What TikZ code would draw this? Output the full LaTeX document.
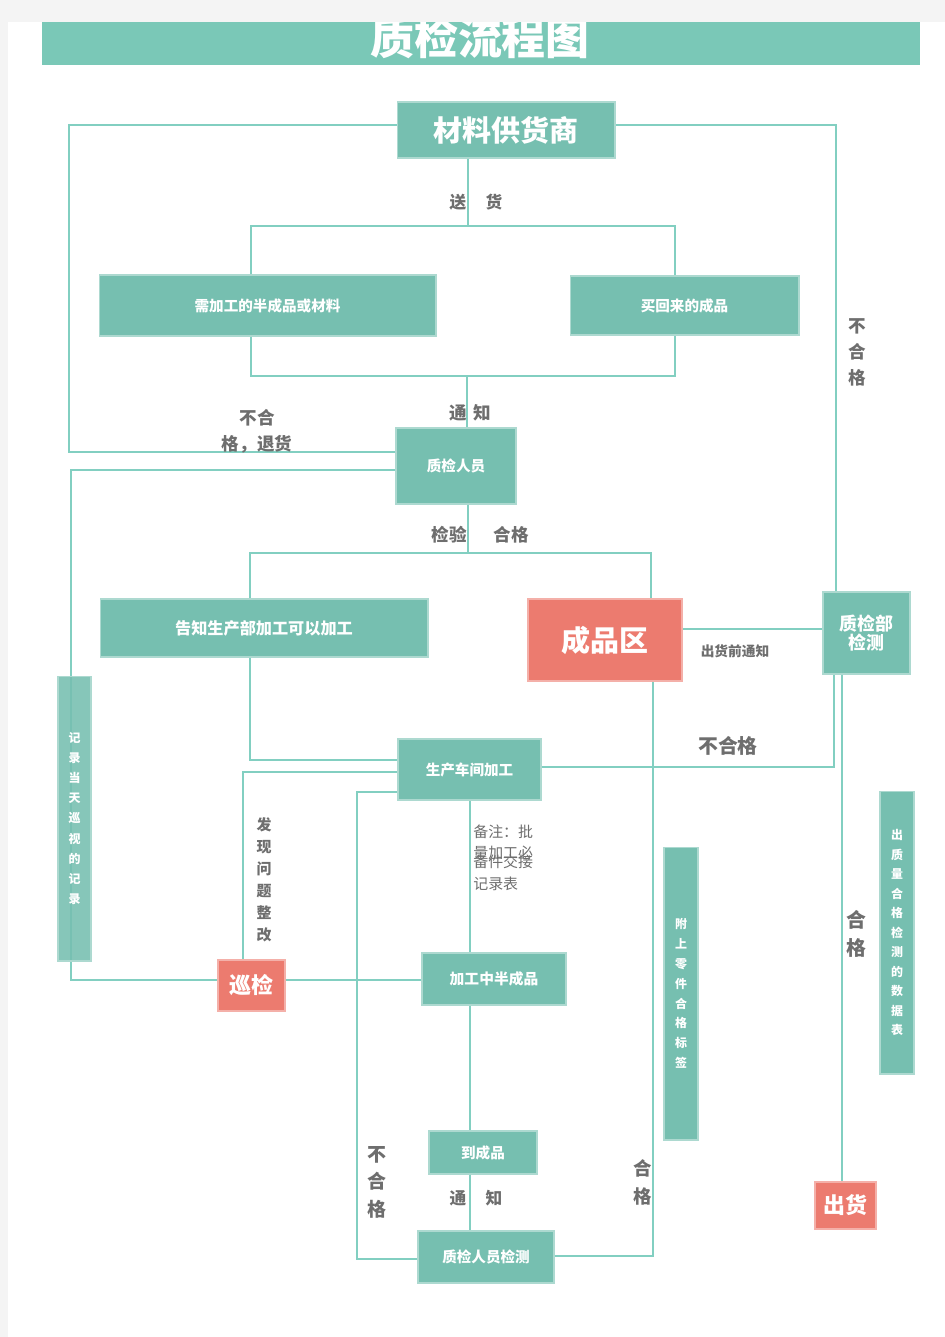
\documentclass[tikz,border=0pt]{standalone}
\usepackage{fontspec}
\setmainfont{Noto Sans CJK SC}
\definecolor{tealbox}{HTML}{76BFB0}
\definecolor{titlec}{HTML}{7AC8B7}
\definecolor{salmon}{HTML}{EC7B6F}
\definecolor{linec}{HTML}{82CFC1}
\definecolor{graytxt}{HTML}{6E6E6E}
\definecolor{bgc}{HTML}{F4F4F4}
\tikzset{
 box/.style={fill=tealbox, draw=tealbox!60!white, line width=0.6pt, text=white, inner sep=0pt},
 redbox/.style={box, fill=salmon, draw=salmon!60!white},
 conn/.style={draw=linec, line width=0.75pt},
 thickconn/.style={draw=linec, line width=1.6pt},
 lbl/.style={text=graytxt, inner sep=0pt},
}
\begin{document}
\begin{tikzpicture}[x=0.02cm,y=-0.02cm]
\useasboundingbox (0,0) rectangle (945,1337);
\fill[bgc] (0,0) rectangle (945,1337);
\fill[white] (8,22) rectangle (945,1337);
\fill[titlec] (42,22) rectangle (920,65);
\node[text=white,inner sep=0pt,font=\bfseries\fontsize{25}{30}\selectfont] (title) at (480,38) {质检流程图};
\fill[bgc] (0,0) rectangle (945,22);

% boxes
\node[box, minimum width=4.36cm, minimum height=1.12cm, font=\bfseries\fontsize{16.5}{20}\selectfont] (sup) at (506,130) {材料供货商};
\node[box, minimum width=6.74cm, minimum height=1.22cm, font=\bfseries\fontsize{8.3}{10}\selectfont] (semi) at (267.5,305.5) {需加工的半成品或材料};
\node[box, minimum width=4.58cm, minimum height=1.18cm, font=\bfseries\fontsize{8.3}{10}\selectfont] (bought) at (684.5,305.5) {买回来的成品};
\node[box, minimum width=2.4cm, minimum height=1.52cm, font=\bfseries\fontsize{8.3}{10}\selectfont] (qc) at (456,466) {质检人员};
\node[box, minimum width=6.56cm, minimum height=1.16cm, font=\bfseries\fontsize{9.2}{11}\selectfont] (tell) at (264,628) {告知生产部加工可以加工};
\node[redbox, minimum width=3.08cm, minimum height=1.64cm, font=\bfseries\fontsize{16.5}{20}\selectfont] (fin) at (605,640) {成品区};
\node[box, minimum width=1.74cm, minimum height=1.64cm, align=center, font=\bfseries\fontsize{10.2}{10.8}\selectfont] (dept) at (866.5,633) {质检部\\检测};
\node[box, minimum width=2.86cm, minimum height=1.22cm, font=\bfseries\fontsize{8.3}{10}\selectfont] (work) at (469.5,769.5) {生产车间加工};
\node[box, minimum width=2.88cm, minimum height=1.04cm, font=\bfseries\fontsize{8.4}{10}\selectfont] (semi2) at (494,979) {加工中半成品};
\node[box, minimum width=2.16cm, minimum height=0.86cm, font=\bfseries\fontsize{8.3}{10}\selectfont] (prod) at (483,1152.5) {到成品};
\node[box, minimum width=2.72cm, minimum height=1.04cm, font=\bfseries\fontsize{8.3}{10}\selectfont] (qc2) at (486,1257) {质检人员检测};
\node[box, minimum width=0.68cm, minimum height=5.86cm, align=center, font=\bfseries\fontsize{6.8}{11.3}\selectfont] (tag) at (681,993.5) {附\\上\\零\\件\\合\\格\\标\\签};
\node[box, minimum width=0.68cm, minimum height=5.66cm, align=center, font=\bfseries\fontsize{6.8}{11.1}\selectfont] (data) at (897,932.5) {出\\质\\量\\合\\格\\检\\测\\的\\数\\据\\表};
\node[redbox, minimum width=1.22cm, minimum height=0.94cm, font=\bfseries\fontsize{12.5}{14}\selectfont] (ship) at (845.5,1205.5) {出货};
\node[redbox, minimum width=1.34cm, minimum height=1.02cm, font=\bfseries\fontsize{12.5}{14}\selectfont] (patrol) at (251.5,985.5) {巡检};

% junction coordinates
\coordinate (j1) at (468,226);
\coordinate (a1) at (251,226);
\coordinate (a2) at (675,226);
\coordinate (b1) at (251,376);
\coordinate (b2) at (675,376);
\coordinate (j2) at (467,376);
\coordinate (c1) at (69,452);
\coordinate (c2) at (69,125);
\coordinate (d1) at (836,125);
\coordinate (e1) at (71,470);
\coordinate (e2) at (71,980);
\coordinate (f1) at (300,980);
\coordinate (g1) at (468,553);
\coordinate (g2) at (250,553);
\coordinate (g3) at (651,553);
\coordinate (h1) at (700,629);
\coordinate (i1) at (250,760);
\coordinate (k1) at (834,767);
\coordinate (l1) at (243,772);
\coordinate (m1) at (357,792);
\coordinate (m2) at (357,1259);
\coordinate (n1) at (470,900);
\coordinate (o1) at (653,1256);
\coordinate (p1) at (842,700);

% connectors
\draw[conn] (sup.south -| j1) -- (j1);
\draw[conn] (a1 |- semi.north) -- (a1) -- (a2) -- (a2 |- bought.north);
\draw[conn] (b1 |- semi.south) -- (b1) -- (b2) -- (b2 |- bought.south);
\draw[conn] (j2) -- (j2 |- qc.north);
\draw[conn] (qc.west |- c1) -- (c1) -- (c2) -- (c2 -| sup.west);
\draw[conn] (sup.east |- d1) -- (d1) -- (d1 |- dept.north);
\draw[conn] (qc.west |- e1) -- (e1) -- (e2) -- (e2 -| patrol.west);
\draw[conn] (patrol.east |- f1) -- (semi2.west |- f1);
\draw[conn] (qc.south -| g1) -- (g1);
\draw[conn] (g2 |- tell.north) -- (g2) -- (g3) -- (g3 |- fin.north);
\draw[thickconn] (fin.east |- h1) -- (dept.west |- h1);
\draw[conn] (i1 |- tell.south) -- (i1) -- (work.west |- i1);
\draw[conn] (work.east |- k1) -- (k1) -- (k1 |- dept.south);
\draw[conn] (work.west |- l1) -- (l1) -- (l1 |- patrol.north);
\draw[conn] (work.west |- m1) -- (m1) -- (m2) -- (qc2.west |- m2);
\draw[conn] (work.south -| n1) -- (semi2.north -| n1);
\draw[conn] (semi2.south -| n1) -- (prod.north -| n1);
\draw[conn] (prod.south -| n1) -- (qc2.north -| n1);
\draw[conn, line width=1.2pt] (qc2.east |- o1) -- (o1) -- (o1 |- fin.south);
\draw[conn] (dept.south -| p1) -- (ship.north -| p1);

% record box drawn over the line that passes through it
\node[box, fill opacity=0.88, text opacity=1, minimum width=0.66cm, minimum height=5.7cm, align=center, font=\bfseries\fontsize{6.8}{11.5}\selectfont] (rec) at (74.5,818.5) {记\\录\\当\\天\\巡\\视\\的\\记\\录};

% labels
\node[lbl, font=\bfseries\fontsize{9.5}{11}\selectfont] (song) at (458,202) {送};
\node[lbl, font=\bfseries\fontsize{9.5}{11}\selectfont] (huo) at (494,202) {货};
\node[lbl, font=\bfseries\fontsize{10}{12}\selectfont] (tong1) at (458,413) {通};
\node[lbl, font=\bfseries\fontsize{10}{12}\selectfont] (zhi1) at (482,413) {知};
\node[lbl, align=center, font=\bfseries\fontsize{10}{14.7}\selectfont] (reject) at (257,431) {不合\\格，退货};
\node[lbl, font=\bfseries\fontsize{10}{12}\selectfont] (jy) at (449,535) {检验};
\node[lbl, font=\bfseries\fontsize{10}{12}\selectfont] (hg) at (511,535) {合格};
\node[lbl, align=center, font=\bfseries\fontsize{10}{15}\selectfont] (bhg1) at (857,352.5) {不\\合\\格};
\node[lbl, font=\bfseries\fontsize{7.8}{9}\selectfont] (notice) at (735,651) {出货前通知};
\node[lbl, font=\bfseries\fontsize{11.3}{13}\selectfont] (bhg2) at (728,746) {不合格};
\node[lbl, align=center, font=\bfseries\fontsize{8.5}{12.5}\selectfont] (fix) at (264,880) {发\\现\\问\\题\\整\\改};
\node[lbl, anchor=west, font=\fontsize{8.5}{10}\selectfont] (note1) at (473,832) {备注：批};
\node[lbl, anchor=west, font=\fontsize{8.5}{10}\selectfont] (note2) at (473,853) {量加工必};
\node[lbl, anchor=west, font=\fontsize{8.5}{10}\selectfont] (note3) at (473,862) {备件交接};
\node[lbl, anchor=west, font=\fontsize{8.5}{10}\selectfont] (note4) at (473,884) {记录表};
\node[lbl, align=center, font=\bfseries\fontsize{10.8}{15.6}\selectfont] (bhg3) at (377,1182) {不\\合\\格};
\node[lbl, font=\bfseries\fontsize{9.5}{11}\selectfont] (tong2) at (458,1198) {通};
\node[lbl, font=\bfseries\fontsize{9.5}{11}\selectfont] (zhi2) at (494,1198) {知};
\node[lbl, align=center, font=\bfseries\fontsize{10.5}{16.4}\selectfont] (hg2) at (643,1182.5) {合\\格};
\node[lbl, align=center, font=\bfseries\fontsize{11.3}{15.9}\selectfont] (hg3) at (856,934) {合\\格};
\end{tikzpicture}
\end{document}
